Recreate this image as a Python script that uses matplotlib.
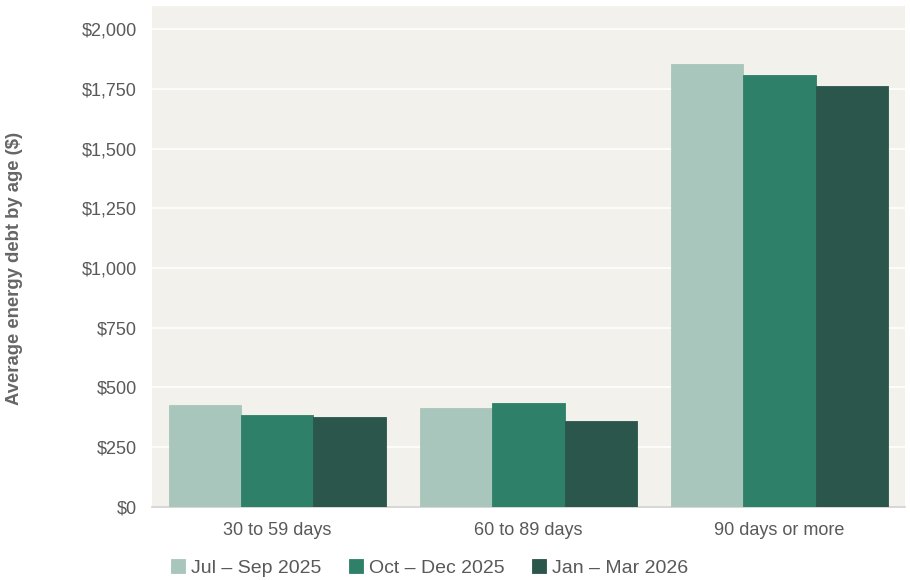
import matplotlib.pyplot as plt
import numpy as np

plt.rcParams['font.family'] = ['Liberation Sans', 'DejaVu Sans']

categories = ["30 to 59 days", "60 to 89 days", "90 days or more"]
series_names = ["Jul \u2013 Sep 2025", "Oct \u2013 Dec 2025", "Jan \u2013 Mar 2026"]
jul_sep_2025 = [427, 416, 1855]
oct_dec_2025 = [384, 434, 1810]
jan_mar_2026 = [378, 360, 1764]
colors = ["#A9C6BC", "#2E8068", "#2A564C"]

fig = plt.figure(figsize=(9.1, 5.8), dpi=100)
ax = fig.add_axes([0.167, 0.126, 0.8275, 0.864])
ax.set_facecolor("#F2F1EC")

x = np.arange(len(categories))
width = 0.287
for i, (vals, name) in enumerate(zip([jul_sep_2025, oct_dec_2025, jan_mar_2026], series_names)):
    ax.bar(x + (i - 1) * width, vals, width, color=colors[i], label=name,
           edgecolor=colors[i], linewidth=0.6, zorder=3)

ax.set_xlim(-0.5, 2.5)
ax.set_ylim(0, 2098)
ax.set_yticks(np.arange(0, 2001, 250))
ax.set_yticklabels([f"${v:,}" for v in range(0, 2001, 250)])
ax.yaxis.grid(True, color="white", linewidth=1.2, zorder=0)
ax.set_axisbelow(True)

ax.set_xticks(x)
ax.set_xticklabels(categories)
ax.tick_params(axis='both', length=0, labelsize=13, labelcolor="#595959")
ax.tick_params(axis='y', pad=11)
ax.tick_params(axis='x', pad=11)

for side in ["top", "right", "left"]:
    ax.spines[side].set_visible(False)
ax.spines["bottom"].set_color("#D0D0D0")
ax.spines["bottom"].set_linewidth(1.2)

fig.text(0.016, 0.537, "Average energy debt by age ($)", rotation=90, ha="center", va="center",
         fontsize=13.3, fontweight="bold", color="#666666")

fig.legend(loc="center", bbox_to_anchor=(0.472, 0.021), ncol=3, frameon=False,
           fontsize=14, labelcolor="#595959", handlelength=0.75, handleheight=0.75,
           handletextpad=0.3, columnspacing=1.4)

fig.savefig("out.png", dpi=100, facecolor="white")
